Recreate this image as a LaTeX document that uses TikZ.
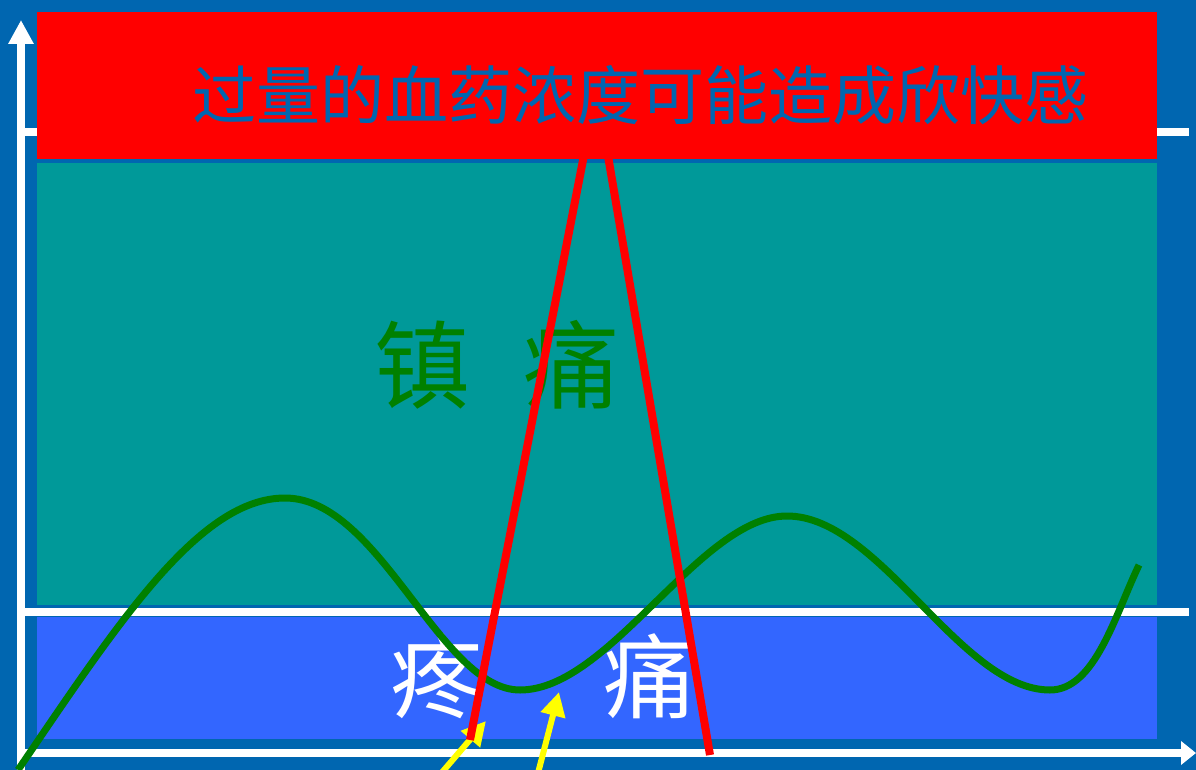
\documentclass[tikz,border=0pt]{standalone}
\usepackage{fontspec}
\newfontfamily\cjk{Noto Sans CJK SC}
\usetikzlibrary{arrows.meta}
\definecolor{bgblue}{HTML}{0066B0}
\definecolor{tealband}{HTML}{009999}
\definecolor{lowband}{HTML}{3366FF}
\definecolor{curvegreen}{HTML}{008000}
\definecolor{hired}{HTML}{FF0000}
\definecolor{arryellow}{HTML}{FFFF00}
\tikzset{
  axisline/.style={draw=white, line width=8pt},
  gridline/.style={draw=white, line width=8pt},
  band/.style={draw=none},
  redline/.style={draw=hired, line width=8pt},
  yarrow/.style={draw=arryellow, line width=6pt, -{Triangle[width=24pt,length=24pt]}},
  curve/.style={draw=curvegreen, line width=7pt},
  cjktext/.style={inner sep=0pt, font=\cjk}
}
\begin{document}
\begin{tikzpicture}[x=1pt, y=-1pt]
  \fill[bgblue] (0,0) rectangle (1196,770);
  \useasboundingbox (0,0) rectangle (1196,770);
  % grid lines
  \draw[gridline] (25,132) -- (1189,132);
  \draw[gridline] (25,612) -- (1189,612);
  % bands
  \fill[hired] (37,12) rectangle (1157,159);
  \fill[tealband] (37,163) rectangle (1157,605);
  \fill[lowband] (37,617) rectangle (1157,739);
  % axes
  \coordinate (origin) at (21,753);
  \coordinate (ytip) at (21,20);
  \coordinate (xtip) at (1196,753);
  \coordinate (ybot) at (21,770);
  \draw[axisline, -{Triangle[width=24pt,length=24pt]}] (ybot) -- (ytip);
  \draw[axisline, -{Triangle[width=23pt,length=15pt]}] (origin) -- (xtip);
  % texts
  \node[cjktext, text=bgblue, font=\cjk\fontsize{64pt}{64pt}\selectfont] (title) at (640,95) {过量的血药浓度可能造成欣快感};
  \node[cjktext, text=curvegreen, font=\cjk\fontsize{96pt}{96pt}\selectfont] (relief) at (497,365) {镇\hspace{53pt}痛};
  \node[cjktext, text=white, font=\cjk\fontsize{92pt}{92pt}\selectfont] (pain) at (543,676) {疼\hspace{121pt}痛};
  % green concentration curve
  \coordinate (c0) at (18,770);
  \coordinate (p1) at (285,498);
  \coordinate (t1) at (520,690);
  \coordinate (p2) at (787,516);
  \coordinate (t2) at (1050,690);
  \coordinate (c5) at (1139,565);
  \draw[curve] (c0) .. controls (120,620) and (200,498) .. (p1)
    .. controls (380,498) and (440,690) .. (t1)
    .. controls (610,690) and (700,516) .. (p2)
    .. controls (880,516) and (960,690) .. (t2)
    .. controls (1095,690) and (1115,615) .. (c5);
  % yellow arrows
  \coordinate (ya1s) at (438,777);
  \coordinate (ya1e) at (486,721);
  \coordinate (ya2s) at (537,777);
  \coordinate (ya2e) at (559,692);
  \draw[yarrow] (ya1s) -- (ya1e);
  \draw[yarrow] (ya2s) -- (ya2e);
  % red spike
  \coordinate (rl1) at (470,740);
  \coordinate (rt1) at (585,150);
  \coordinate (rt2) at (607,150);
  \coordinate (rl2) at (710,755);
  \draw[redline] (rl1) -- (rt1);
  \draw[redline] (rt2) -- (rl2);
\end{tikzpicture}
\end{document}
